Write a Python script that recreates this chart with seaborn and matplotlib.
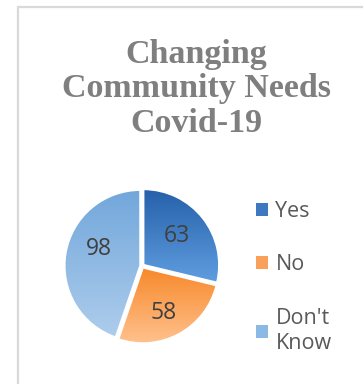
import numpy as np
import matplotlib
matplotlib.use("Agg")
import matplotlib.pyplot as plt
from matplotlib.colors import LinearSegmentedColormap
from matplotlib.patches import Patch
from matplotlib.lines import Line2D
import seaborn as sns

# Survey answers
categories = ["Yes", "No", "Don't\nKnow"]
counts = [63, 58, 98]
title = "Changing\nCommunity Needs\nCovid-19"

# (top colour, bottom colour) of each slice's vertical gradient
gradients = [("#2560a9", "#609ee0"),
             ("#f7882a", "#ffc18d"),
             ("#72a7db", "#aecdec")]
legend_colors = ["#3d78c0", "#f9a05a", "#8ab9e3"]

sns.set_theme(style="white")
plt.rcParams["font.family"] = ["Open Sans", "DejaVu Sans"]

fig = plt.figure(figsize=(3.63, 3.84), dpi=100)
fig.patch.set_facecolor("white")

# chart area border (top and left edges)
fig.add_artist(Line2D([18 / 363, 1.0], [1 - 7 / 384, 1 - 7 / 384],
                      transform=fig.transFigure, color="#d9d9d9", lw=1.6))
fig.add_artist(Line2D([18 / 363, 18 / 363], [0.0, 1 - 7 / 384],
                      transform=fig.transFigure, color="#d9d9d9", lw=1.6))

fig.text(196 / 363, 1 - 89 / 384, title, ha="center", va="center",
         family=["Liberation Serif", "DejaVu Serif"], fontweight="bold",
         fontsize=24.5, color="#7f7f7f", linespacing=1.13)

size = 170
ax = fig.add_axes([(142 - size / 2) / 363, (384 - 266 - size / 2) / 384,
                   size / 363, size / 384])

total = sum(counts)
wedges, texts, autotexts = ax.pie(
    counts, startangle=90, counterclock=False,
    explode=[0.022] * len(counts),
    autopct=lambda p: f"{round(p * total / 100):d}",
    pctdistance=0.62,
    wedgeprops=dict(edgecolor="white", linewidth=1.6),
    textprops=dict(fontsize=16.5, color="#404040"))

for w, (top, bottom) in zip(wedges, gradients):
    ext = w.get_path().transformed(w.get_patch_transform()).get_extents()
    cmap = LinearSegmentedColormap.from_list("g", [top, bottom])
    grad = np.linspace(0, 1, 256).reshape(-1, 1)
    im = ax.imshow(grad, cmap=cmap, aspect="auto", origin="upper",
                   extent=(ext.x0, ext.x1, ext.y0, ext.y1), zorder=1)
    im.set_clip_path(w)
    w.set_facecolor("none")
    w.set_zorder(2)

for t in autotexts:
    t.set_zorder(4)
# small placement tweaks of the value labels
x, y = autotexts[0].get_position()
autotexts[0].set_position((x - 0.04, y))
x, y = autotexts[1].get_position()
autotexts[1].set_position((x - 0.03, y - 0.06))
x, y = autotexts[2].get_position()
autotexts[2].set_position((x + 0.07, y + 0.12))

ax.set_xlim(-1.12, 1.12)
ax.set_ylim(-1.12, 1.12)
ax.set_aspect("equal")
ax.axis("off")

handles = [Patch(facecolor=c, edgecolor="none") for c in legend_colors]
leg = fig.legend(handles, categories, loc="upper left",
                 bbox_to_anchor=(256 / 363, 1 - 201 / 384), frameon=False,
                 fontsize=15.5, labelcolor="#595959", handlelength=0.55,
                 handleheight=0.55, handletextpad=0.35, labelspacing=1.5,
                 borderaxespad=0, borderpad=0)
for t in leg.get_texts():
    t.set_linespacing(1.3)

fig.savefig("out.png", dpi=100, facecolor="white")
